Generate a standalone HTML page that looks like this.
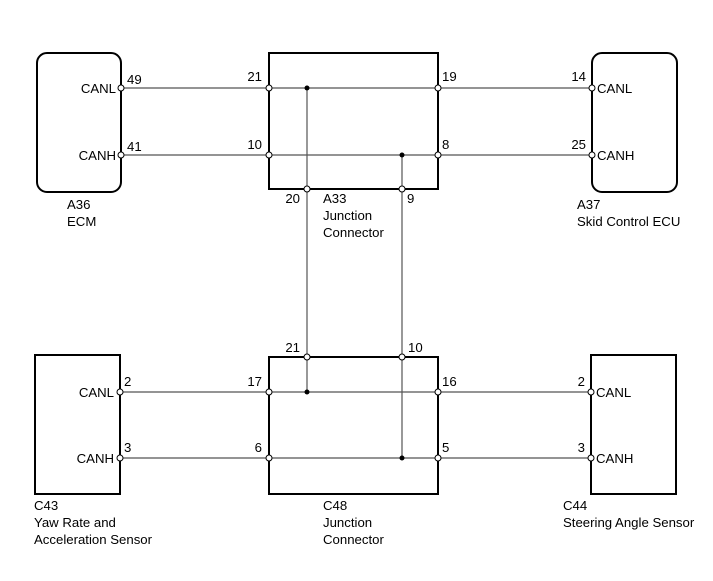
<!DOCTYPE html>
<html><head><style>body{margin:0;background:#fff}svg{display:block}</style></head><body>
<svg width="713" height="581" viewBox="0 0 713 581" xmlns="http://www.w3.org/2000/svg" font-family="Liberation Sans, sans-serif" font-size="13.2" fill="#000">
<g fill="none" stroke="#000" stroke-width="2">
<rect x="37" y="53" width="84" height="139" rx="10"/>
<rect x="269" y="53" width="169" height="136"/>
<rect x="592" y="53" width="85" height="139" rx="10"/>
<rect x="35" y="355" width="85" height="139"/>
<rect x="269" y="357" width="169" height="137"/>
<rect x="591" y="355" width="85" height="139"/>
</g>
<g stroke="#555" stroke-width="1.2">
<line x1="121" y1="88" x2="592" y2="88"/>
<line x1="121" y1="155" x2="592" y2="155"/>
<line x1="120" y1="392" x2="591" y2="392"/>
<line x1="120" y1="458" x2="591" y2="458"/>
<line x1="307" y1="88" x2="307" y2="392"/>
<line x1="402" y1="155" x2="402" y2="458"/>
</g>
<g fill="#fff" stroke="#000" stroke-width="1">
<circle cx="121" cy="88" r="3"/><circle cx="121" cy="155" r="3"/>
<circle cx="269" cy="88" r="3"/><circle cx="269" cy="155" r="3"/>
<circle cx="438" cy="88" r="3"/><circle cx="438" cy="155" r="3"/>
<circle cx="592" cy="88" r="3"/><circle cx="592" cy="155" r="3"/>
<circle cx="307" cy="189" r="3"/><circle cx="402" cy="189" r="3"/>
<circle cx="307" cy="357" r="3"/><circle cx="402" cy="357" r="3"/>
<circle cx="120" cy="392" r="3"/><circle cx="120" cy="458" r="3"/>
<circle cx="269" cy="392" r="3"/><circle cx="269" cy="458" r="3"/>
<circle cx="438" cy="392" r="3"/><circle cx="438" cy="458" r="3"/>
<circle cx="591" cy="392" r="3"/><circle cx="591" cy="458" r="3"/>
</g>
<g fill="#000">
<circle cx="307" cy="88" r="2.5"/><circle cx="402" cy="155" r="2.5"/>
<circle cx="307" cy="392" r="2.5"/><circle cx="402" cy="458" r="2.5"/>
</g>
<text x="116" y="93" text-anchor="end">CANL</text>
<text x="116" y="160" text-anchor="end">CANH</text>
<text x="127" y="84">49</text><text x="127" y="151">41</text>
<text x="262" y="81" text-anchor="end">21</text><text x="262" y="149" text-anchor="end">10</text>
<text x="442" y="81">19</text><text x="442" y="149">8</text>
<text x="586" y="81" text-anchor="end">14</text><text x="586" y="149" text-anchor="end">25</text>
<text x="597" y="93">CANL</text><text x="597" y="160">CANH</text>
<text x="300" y="203" text-anchor="end">20</text><text x="407" y="203">9</text>
<text x="67" y="209">A36</text><text x="67" y="226">ECM</text>
<text x="323" y="203">A33</text><text x="323" y="220">Junction</text><text x="323" y="237">Connector</text>
<text x="577" y="209">A37</text><text x="577" y="226">Skid Control ECU</text>
<text x="300" y="352" text-anchor="end">21</text><text x="408" y="352">10</text>
<text x="114" y="397" text-anchor="end">CANL</text><text x="114" y="463" text-anchor="end">CANH</text>
<text x="124" y="386">2</text><text x="124" y="452">3</text>
<text x="262" y="386" text-anchor="end">17</text><text x="262" y="452" text-anchor="end">6</text>
<text x="442" y="386">16</text><text x="442" y="452">5</text>
<text x="585" y="386" text-anchor="end">2</text><text x="585" y="452" text-anchor="end">3</text>
<text x="596" y="397">CANL</text><text x="596" y="463">CANH</text>
<text x="34" y="510">C43</text><text x="34" y="527">Yaw Rate and</text><text x="34" y="544">Acceleration Sensor</text>
<text x="323" y="510">C48</text><text x="323" y="527">Junction</text><text x="323" y="544">Connector</text>
<text x="563" y="510">C44</text><text x="563" y="527">Steering Angle Sensor</text>
</svg>
</body></html>
